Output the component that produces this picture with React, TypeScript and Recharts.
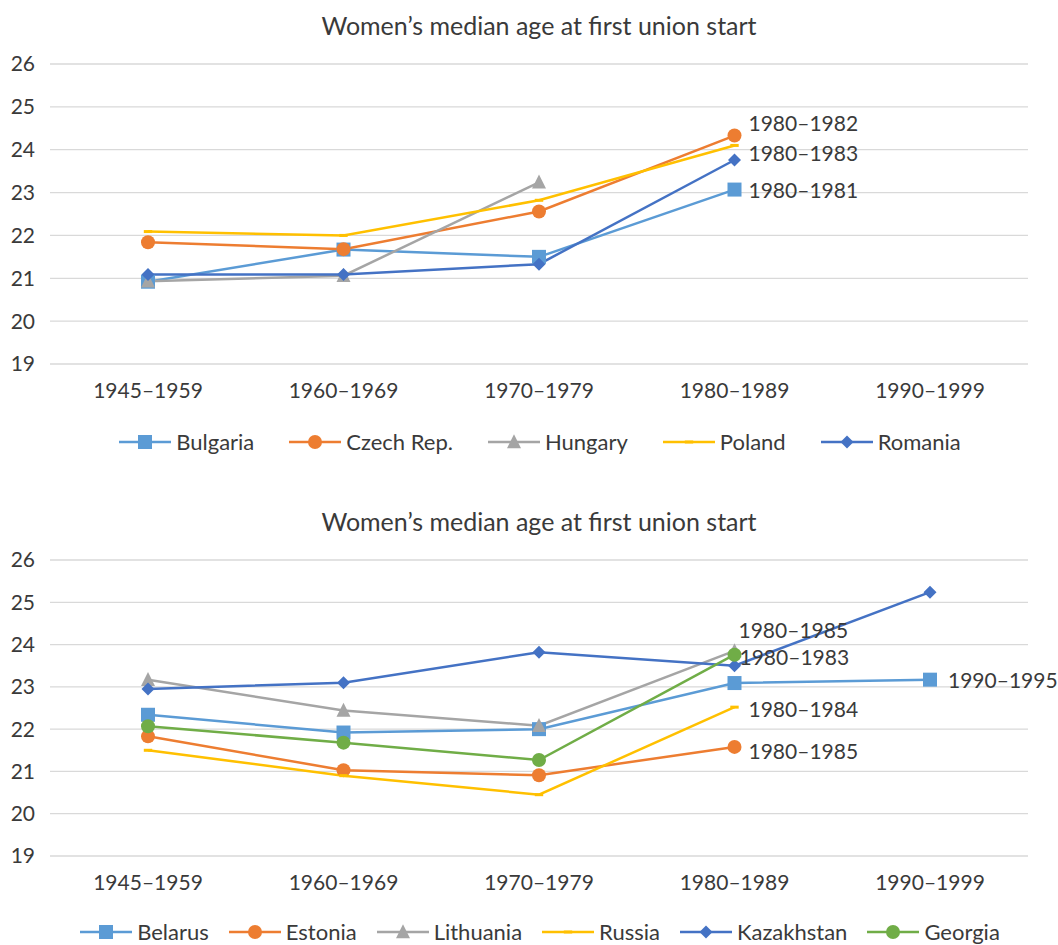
import React from "react";
import { LineChart, Line, XAxis, YAxis, CartesianGrid, Legend, LabelList } from "recharts";

const periods = ["1945–1959", "1960–1969", "1970–1979", "1980–1989", "1990–1999"];
const yTicks = [19, 20, 21, 22, 23, 24, 25, 26];

// top panel
const bulgaria = [20.92, 21.67, 21.5, 23.07, null];
const czech = [21.84, 21.68, 22.56, 24.33, null];
const hungary = [20.93, 21.06, 23.24, null, null];
const poland = [22.09, 22.0, 22.82, 24.1, null];
const romania = [21.09, 21.09, 21.33, 23.76, null];
const bulgariaNotes = ["", "", "", "1980–1981", ""];
const czechNotes = ["", "", "", "1980–1982", ""];
const romaniaNotes = ["", "", "", "1980–1983", ""];

// bottom panel
const belarus = [22.34, 21.92, 22.0, 23.09, 23.17];
const estonia = [21.83, 21.03, 20.91, 21.58, null];
const lithuania = [23.17, 22.44, 22.08, 23.85, null];
const russia = [21.5, 20.9, 20.45, 22.52, null];
const kazakhstan = [22.95, 23.1, 23.82, 23.5, 25.24];
const georgia = [22.07, 21.68, 21.27, 23.76, null];
const belarusNotes = ["", "", "", "", "1990–1995"];
const estoniaNotes = ["", "", "", "1980–1985", ""];
const lithuaniaNotes = ["", "", "", "1980–1985", ""];
const russiaNotes = ["", "", "", "1980–1984", ""];
const georgiaNotes = ["", "", "", "1980–1983", ""];

const TEXT = "#3a3a3a";
const FONT = "Lato, 'Noto Sans', sans-serif";

type Shape = "square" | "circle" | "triangle" | "dash" | "diamond";

interface Series {
  key: string;
  name: string;
  color: string;
  shape: Shape;
  values: (number | null)[];
  notes?: string[];
  noteDx?: number;
  noteDy?: number;
}

const topSeries: Series[] = [
  { key: "bulgaria", name: "Bulgaria", color: "#5b9bd5", shape: "square", values: bulgaria, notes: bulgariaNotes, noteDx: 14, noteDy: 0 },
  { key: "czech", name: "Czech Rep.", color: "#ed7d31", shape: "circle", values: czech, notes: czechNotes, noteDx: 14, noteDy: -13 },
  { key: "hungary", name: "Hungary", color: "#a5a5a5", shape: "triangle", values: hungary },
  { key: "poland", name: "Poland", color: "#ffc000", shape: "dash", values: poland },
  { key: "romania", name: "Romania", color: "#4472c4", shape: "diamond", values: romania, notes: romaniaNotes, noteDx: 14, noteDy: -8 },
];

const bottomSeries: Series[] = [
  { key: "belarus", name: "Belarus", color: "#5b9bd5", shape: "square", values: belarus, notes: belarusNotes, noteDx: 18, noteDy: 0 },
  { key: "estonia", name: "Estonia", color: "#ed7d31", shape: "circle", values: estonia, notes: estoniaNotes, noteDx: 14, noteDy: 4 },
  { key: "lithuania", name: "Lithuania", color: "#a5a5a5", shape: "triangle", values: lithuania, notes: lithuaniaNotes, noteDx: 4, noteDy: -21 },
  { key: "russia", name: "Russia", color: "#ffc000", shape: "dash", values: russia, notes: russiaNotes, noteDx: 14, noteDy: 1 },
  { key: "kazakhstan", name: "Kazakhstan", color: "#4472c4", shape: "diamond", values: kazakhstan },
  { key: "georgia", name: "Georgia", color: "#70ad47", shape: "circle", values: georgia, notes: georgiaNotes, noteDx: 5, noteDy: 2 },
];

function Marker({ cx, cy, shape, color, s }: { cx: number; cy: number; shape: Shape; color: string; s: number }) {
  switch (shape) {
    case "square":
      return <rect x={cx - s / 2} y={cy - s / 2} width={s} height={s} fill={color} />;
    case "circle":
      return <circle cx={cx} cy={cy} r={s / 2} fill={color} />;
    case "triangle":
      return <polygon points={`${cx},${cy - s * 0.55} ${cx + s / 2},${cy + s * 0.45} ${cx - s / 2},${cy + s * 0.45}`} fill={color} />;
    case "diamond":
      return <polygon points={`${cx},${cy - s / 2} ${cx + s / 2},${cy} ${cx},${cy + s / 2} ${cx - s / 2},${cy}`} fill={color} />;
    case "dash":
      return <rect x={cx - s * 0.3} y={cy - 1.5} width={s * 0.6} height={3} fill={color} />;
  }
  return null;
}

function buildData(series: Series[]) {
  return periods.map((p, i) => {
    const row: Record<string, any> = { period: p };
    series.forEach((s) => {
      row[s.key] = s.values[i];
      row[s.key + "Note"] = s.notes ? s.notes[i] : "";
    });
    return row;
  });
}

function LegendRow({ series, gap, height, pad }: { series: Series[]; gap: number; height: number; pad: React.CSSProperties }) {
  return (
    <div style={{ height, boxSizing: "border-box", display: "flex", justifyContent: "center", alignItems: "flex-start", gap, ...pad }}>
      {series.map((s) => (
        <div key={s.key} style={{ display: "flex", alignItems: "center", gap: 5, height: 24 }}>
          <svg width={52} height={18}>
            <line x1={0} y1={9} x2={52} y2={9} stroke={s.color} strokeWidth={2.5} />
            <Marker cx={26} cy={9} shape={s.shape} color={s.color} s={s.shape === "diamond" ? 13 : 14} />
          </svg>
          <span style={{ fontFamily: FONT, fontSize: 22, color: TEXT, lineHeight: "24px" }}>{s.name}</span>
        </div>
      ))}
    </div>
  );
}

function Panel({ title, series, top, height, legendHeight, legendPad, gap }: {
  title: string; series: Series[]; top: number; height: number; legendHeight: number; legendPad: React.CSSProperties; gap: number;
}) {
  const data = buildData(series);
  return (
    <div style={{ position: "absolute", left: 0, top, width: 1058, height }}>
      <div style={{ position: "absolute", left: 50, width: 978, top: 10, textAlign: "center", fontFamily: FONT, fontSize: 25, lineHeight: "30px", color: TEXT }}>
        {title}
      </div>
      <LineChart width={1058} height={height} data={data} margin={{ top: 64, right: 30, left: 0, bottom: 0 }}>
        <CartesianGrid vertical={false} stroke="#d9d9d9" strokeWidth={1.3} />
        <XAxis
          dataKey="period"
          axisLine={false}
          tickLine={false}
          tickMargin={13}
          height={50}
          interval={0}
          padding={{ left: 98, right: 98 }}
          tick={{ fill: TEXT, fontSize: 21, fontFamily: FONT }}
        />
        <YAxis
          domain={[19, 26]}
          ticks={yTicks}
          axisLine={false}
          tickLine={false}
          width={50}
          tickMargin={9}
          tick={{ fill: TEXT, fontSize: 21, fontFamily: FONT }}
        />
        <Legend
          verticalAlign="bottom"
          wrapperStyle={{ left: 0, width: 1058 }}
          content={() => <LegendRow series={series} gap={gap} height={legendHeight} pad={legendPad} />}
        />
        {series.map((s) => (
          <Line
            key={s.key}
            type="linear"
            dataKey={s.key}
            name={s.name}
            stroke={s.color}
            strokeWidth={2.5}
            isAnimationActive={false}
            dot={(p: any) =>
              p.value == null || p.cy == null ? (
                <g key={p.index} />
              ) : (
                <g key={p.index}>
                  <Marker cx={p.cx} cy={p.cy} shape={s.shape} color={s.color} s={s.shape === "diamond" ? 13 : 14} />
                </g>
              )
            }
            activeDot={false}
          >
            {s.notes && (
              <LabelList
                dataKey={s.key + "Note"}
                content={(p: any) =>
                  p.value ? (
                    <text x={p.x + (s.noteDx ?? 0)} y={p.y + (s.noteDy ?? 0)} dominantBaseline="central" fill={TEXT} fontSize={21} fontFamily={FONT}>
                      {p.value}
                    </text>
                  ) : (
                    <g />
                  )
                }
              />
            )}
          </Line>
        ))}
      </LineChart>
    </div>
  );
}

export default function App() {
  return (
    <div style={{ position: "absolute", left: 0, top: 0, width: 1058, height: 945, background: "#fff" }}>
      <Panel
        title="Women’s median age at first union start"
        series={topSeries}
        top={0}
        height={475}
        legendHeight={61}
        legendPad={{ paddingTop: 16, paddingLeft: 22 }}
        gap={35}
      />
      <Panel
        title="Women’s median age at first union start"
        series={bottomSeries}
        top={496}
        height={449}
        legendHeight={39}
        legendPad={{ paddingTop: 14, paddingLeft: 22 }}
        gap={20}
      />
    </div>
  );
}
